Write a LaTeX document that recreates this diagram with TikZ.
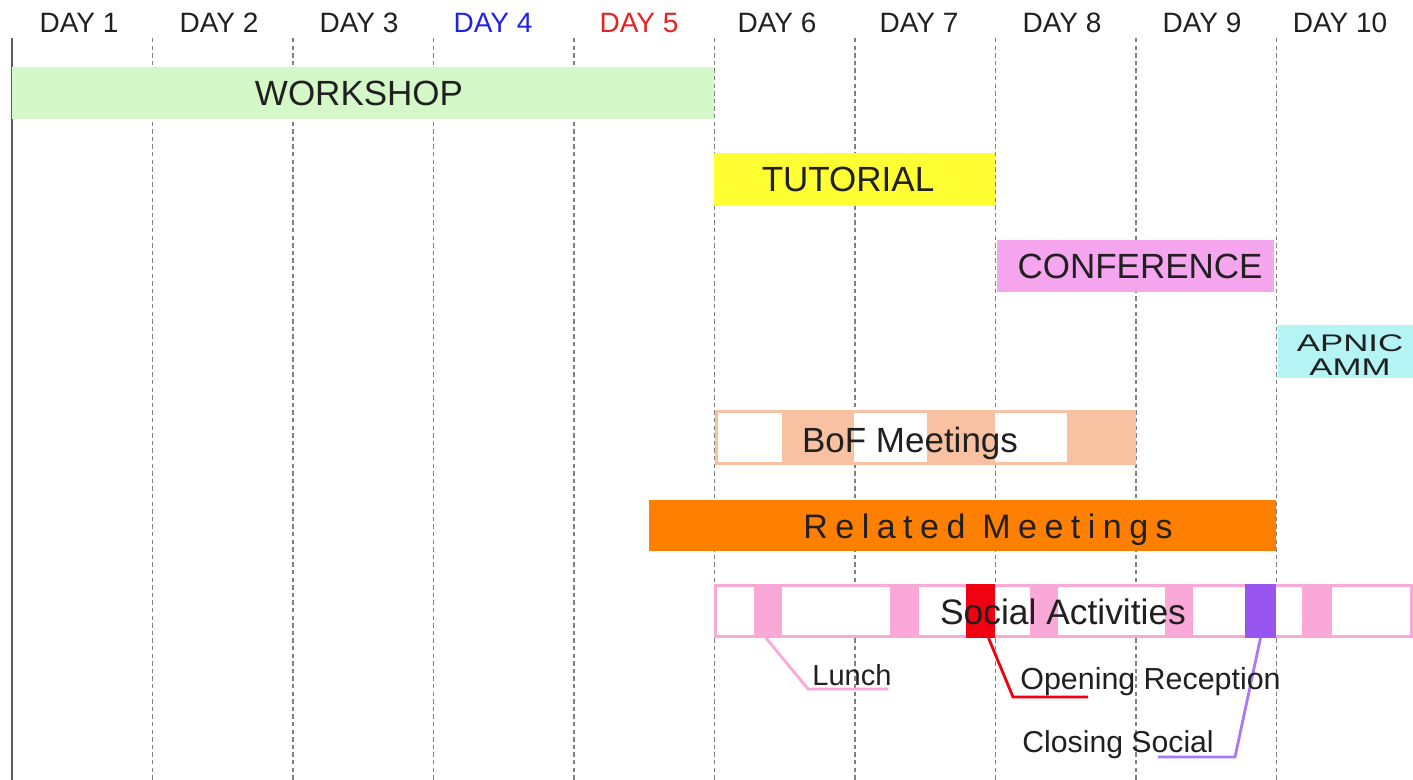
\documentclass[tikz,border=0pt]{standalone}
\usepackage{fontspec}
\setmainfont{Liberation Sans}
\newfontfamily\spacedfont[LetterSpace=22]{Liberation Sans}
\definecolor{txt}{HTML}{202020}
\definecolor{gridc}{HTML}{808080}
\definecolor{axisc}{HTML}{606060}
\definecolor{dayblue}{HTML}{2222E6}
\definecolor{dayred}{HTML}{E62222}
\definecolor{wsgreen}{HTML}{D5F8C8}
\definecolor{tutyellow}{HTML}{FFFF33}
\definecolor{confpink}{HTML}{F5A6EE}
\definecolor{amcyan}{HTML}{B4F4F4}
\definecolor{bofpeach}{HTML}{F8C2A2}
\definecolor{relorange}{HTML}{FF8000}
\definecolor{socpink}{HTML}{F9A8D8}
\definecolor{socred}{HTML}{F00010}
\definecolor{socpurple}{HTML}{9955F0}
\begin{document}
\begin{tikzpicture}[x=0.5pt,y=-0.5pt,
  box/.style={inner sep=0pt,outer sep=0pt,anchor=north west,draw=none},
  daylbl/.style={anchor=base,text=txt,font=\fontsize{14}{16}\selectfont},
  barlbl/.style={anchor=base,text=txt,font=\fontsize{17.5}{20}\selectfont},
  calllbl/.style={anchor=base west,inner sep=0pt,text=txt,font=\fontsize{14.5}{16}\selectfont},
  gridline/.style={draw=gridc,line width=0.75pt,dash pattern=on 2.2pt off 1.6pt},
  callout/.style={line width=1.4pt}]
\useasboundingbox (0,0) rectangle (1413,780);
\fill[white] (0,0) rectangle (1413,780);
% grid
\coordinate (axtop) at (12,38);
\coordinate (axbot) at (12,780);
\foreach \i in {1,...,9}{
  \coordinate (gt\i) at ({12+140.5*\i},38);
  \coordinate (gb\i) at ({12+140.5*\i},780);
  \draw[gridline] (gt\i) -- (gb\i);
}
\draw[axisc,line width=1.1pt] (axtop) -- (axbot);
% day labels
\node[daylbl] (d1) at (79,33) {DAY 1};
\node[daylbl] (d2) at (219,33) {DAY 2};
\node[daylbl] (d3) at (359,33) {DAY 3};
\node[daylbl,text=dayblue] (d4) at (493,33) {DAY 4};
\node[daylbl,text=dayred] (d5) at (639,33) {DAY 5};
\node[daylbl] (d6) at (777,33) {DAY 6};
\node[daylbl] (d7) at (919,33) {DAY 7};
\node[daylbl] (d8) at (1062,33) {DAY 8};
\node[daylbl] (d9) at (1202,33) {DAY 9};
\node[daylbl] (d10) at (1340,33) {DAY 10};
% workshop
\node[box,fill=wsgreen,minimum width=351pt,minimum height=26pt] (ws) at (12,67) {};
\node[barlbl] (wst) at (359,106) {WORKSHOP};
% tutorial
\node[box,fill=tutyellow,minimum width=140.5pt,minimum height=26.5pt] (tut) at (714,153) {};
\node[barlbl] (tutt) at (848,192) {TUTORIAL};
% conference
\node[box,fill=confpink,minimum width=138.5pt,minimum height=26pt] (conf) at (997,240) {};
\node[barlbl] (conft) at (1140,279) {CONFERENCE};
% apnic amm
\node[box,fill=amcyan,minimum width=67.5pt,minimum height=26.5pt] (amm) at (1278,325) {};
\node[anchor=base,text=txt,font=\fontsize{12}{12}\selectfont] (ammt1) at (1350,352) {\scalebox{1.45}[1]{APNIC}};
\node[anchor=base,text=txt,font=\fontsize{12}{12}\selectfont] (ammt2) at (1350,376) {\scalebox{1.45}[1]{AMM}};
% bof
\node[box,fill=bofpeach,minimum width=210.5pt,minimum height=27.5pt] (bof) at (715,410) {};
\node[box,fill=white,minimum width=32pt,minimum height=24.5pt] (bofw1) at (718,413) {};
\node[box,fill=white,minimum width=36.5pt,minimum height=24.5pt] (bofw2) at (854,413) {};
\node[box,fill=white,minimum width=36pt,minimum height=24.5pt] (bofw3) at (995,413) {};
\node[barlbl] (boft) at (910,452) {BoF Meetings};
% related
\node[box,fill=relorange,minimum width=313.5pt,minimum height=25.5pt] (rel) at (649,500) {};
\node[anchor=base west,inner sep=0pt,text=txt,font=\fontsize{17}{18}\spacedfont] (relt) at (803,538) {Related Meetings};
% social
\node[box,fill=socpink,minimum width=349.5pt,minimum height=27pt] (soc) at (714,584) {};
\node[box,fill=white,minimum width=346.5pt,minimum height=24pt] (socw) at (717,587) {};
\node[box,fill=socpink,minimum width=14pt,minimum height=27pt] (s1) at (754,584) {};
\node[box,fill=socpink,minimum width=14.5pt,minimum height=27pt] (s2) at (890,584) {};
\node[box,fill=socred,minimum width=14.5pt,minimum height=27pt] (sred) at (966,584) {};
\node[box,fill=socpink,minimum width=14pt,minimum height=27pt] (s3) at (1030,584) {};
\node[box,fill=socpink,minimum width=14pt,minimum height=27pt] (s4) at (1165,584) {};
\node[box,fill=socpurple,minimum width=15.5pt,minimum height=27pt] (spur) at (1245,584) {};
\node[box,fill=socpink,minimum width=15pt,minimum height=27pt] (s5) at (1302,584) {};
\node[anchor=base,text=txt,font=\fontsize{17.7}{20}\selectfont] (soct) at (1063,624) {Social Activities};
% callouts
\coordinate (lk) at (808,689);
\coordinate (le) at (888,689);
\coordinate (ok) at (1013,697);
\coordinate (oe) at (1088,697);
\coordinate (ck) at (1235,757);
\coordinate (ce) at (1158,757);
\draw[callout,socpink] ([xshift=-1pt]s1.south) -- (lk) -- (le);
\draw[callout,socred] ([xshift=4pt]sred.south) -- (ok) -- (oe);
\draw[callout,socpurple!80] ([xshift=0pt]spur.south) -- (ck) -- (ce);
\node[calllbl] (lunch) at (812,685) {Lunch};
\node[calllbl,font=\fontsize{15.2}{16}\selectfont] (open) at (1020,689) {Opening Reception};
\node[calllbl,font=\fontsize{15.1}{16}\selectfont] (close) at (1022,752) {Closing Social};
\end{tikzpicture}
\end{document}
